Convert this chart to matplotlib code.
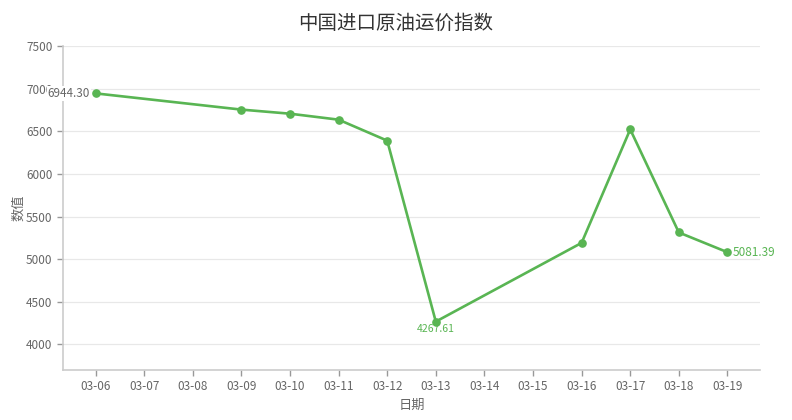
import matplotlib
matplotlib.use("Agg")
import matplotlib.pyplot as plt

plt.rcParams['font.family'] = ['Noto Sans CJK SC', 'DejaVu Sans']

categories = ["03-06", "03-07", "03-08", "03-09", "03-10", "03-11", "03-12",
              "03-13", "03-14", "03-15", "03-16", "03-17", "03-18", "03-19"]
point_dates = ["03-06", "03-09", "03-10", "03-11", "03-12", "03-13",
               "03-16", "03-17", "03-18", "03-19"]
values = [6944.30, 6754, 6706, 6636, 6390, 4267.61, 5191, 6522, 5313, 5081.39]
yticks = [4000, 4500, 5000, 5500, 6000, 6500, 7000, 7500]

green = '#59b553'
grey_text = '#666666'

fig = plt.figure(figsize=(7.92, 4.2), dpi=100)
ax = fig.add_axes([63/792, 50/420, (760-63)/792, (370-46)/420])

xs = [categories.index(d) for d in point_dates]
ax.plot(xs, values, color=green, lw=1.9, marker='o', markersize=5.2, zorder=3)

ax.set_xlim(-0.67, len(categories) - 1 + 0.67)
ax.set_ylim(3700, 7500)
ax.set_xticks(range(len(categories)))
ax.set_xticklabels(categories)
ax.set_yticks(yticks)
ax.set_yticklabels([str(t) for t in yticks])

ax.grid(axis='y', color='#e8e8e8', lw=0.9)
ax.set_axisbelow(True)
for s in ['top', 'right']:
    ax.spines[s].set_visible(False)
for s in ['left', 'bottom']:
    ax.spines[s].set_color('#cccccc')
    ax.spines[s].set_linewidth(1.2)
ax.tick_params(axis='both', colors='#999999', labelcolor=grey_text, labelsize=8.5, length=4, width=1)

# annotations: first, min, last
ax.annotate(f"{values[0]:.2f}", (xs[0], values[0]), xytext=(-4, 0), textcoords='offset points',
            ha='right', va='center', fontsize=8.5, color=grey_text,
            bbox=dict(facecolor='white', edgecolor='none', pad=0.5), zorder=5,
            annotation_clip=False)
imin = values.index(min(values))
ax.annotate(f"{values[imin]:.2f}", (xs[imin], values[imin]), xytext=(0, -2), textcoords='offset points',
            ha='center', va='top', fontsize=7.5, color=green)
ax.annotate(f"{values[-1]:.2f}", (xs[-1], values[-1]), xytext=(4, 0), textcoords='offset points',
            ha='left', va='center', fontsize=8.5, color=green)

ax.set_xlabel("日期", fontsize=9.5, color=grey_text, labelpad=4)
ax.set_ylabel("数值", fontsize=9.5, color=grey_text, labelpad=1)
fig.suptitle("中国进口原油运价指数", fontsize=14, color='#333333', y=0.97)

fig.savefig("out.png", dpi=100, facecolor='white')
